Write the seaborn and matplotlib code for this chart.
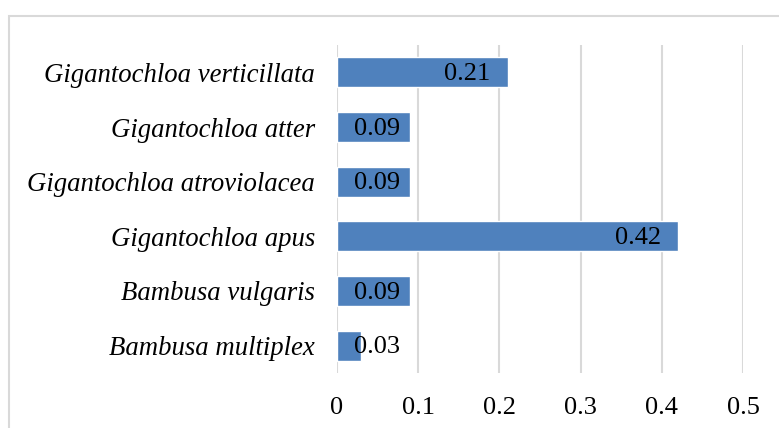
import numpy as np
import pandas as pd
import seaborn as sns
import matplotlib.pyplot as plt
from matplotlib.patches import Rectangle

species = ["Gigantochloa verticillata", "Gigantochloa atter", "Gigantochloa atroviolacea",
           "Gigantochloa apus", "Bambusa vulgaris", "Bambusa multiplex"]
values = [0.21, 0.09, 0.09, 0.42, 0.09, 0.03]
x_ticks = [0, 0.1, 0.2, 0.3, 0.4, 0.5]
x_tick_labels = ["0", "0.1", "0.2", "0.3", "0.4", "0.5"]

df = pd.DataFrame({"species": species, "value": values})

sns.set_style("white")
plt.rcParams['font.family'] = ['Liberation Serif', 'DejaVu Serif']

fig = plt.figure(figsize=(7.79, 4.28), dpi=100)
ax = fig.add_axes([337 / 779, 1 - 373 / 428, 406 / 779, 328 / 428])

sns.barplot(data=df, x="value", y="species", orient="h", color="#4F81BD",
            saturation=1, width=0.55, ax=ax, zorder=3)

ax.set_xlim(0, 0.5)
ax.set_xticks(x_ticks)
ax.set_xticklabels(x_tick_labels, fontsize=19)
ax.set_yticklabels(species, fontsize=19.3, style="italic")
ax.set_xlabel("")
ax.set_ylabel("")
ax.tick_params(axis="both", length=0, labelcolor="black")
ax.tick_params(axis="y", pad=16)
ax.tick_params(axis="x", pad=17)
ax.grid(axis="x", color="#D9D9D9", linewidth=1.5, zorder=0)
ax.grid(axis="y", visible=False)
for s in ax.spines.values():
    s.set_visible(False)

# data labels, inside end (Excel style)
for i, v in enumerate(values):
    xpos = max(v - 0.021, 0.0776)
    ax.text(xpos, i + 0.03, f"{v:.2f}", ha="right", va="center", fontsize=19, color="black", zorder=4)

# chart area border
fig.patches.append(Rectangle((8.5 / 779, -0.05), 1.1, 1 - 15.5 / 428 + 0.05,
                             transform=fig.transFigure, fill=False,
                             edgecolor="#D9D9D9", linewidth=1.5))

fig.savefig("out.png", dpi=100)
